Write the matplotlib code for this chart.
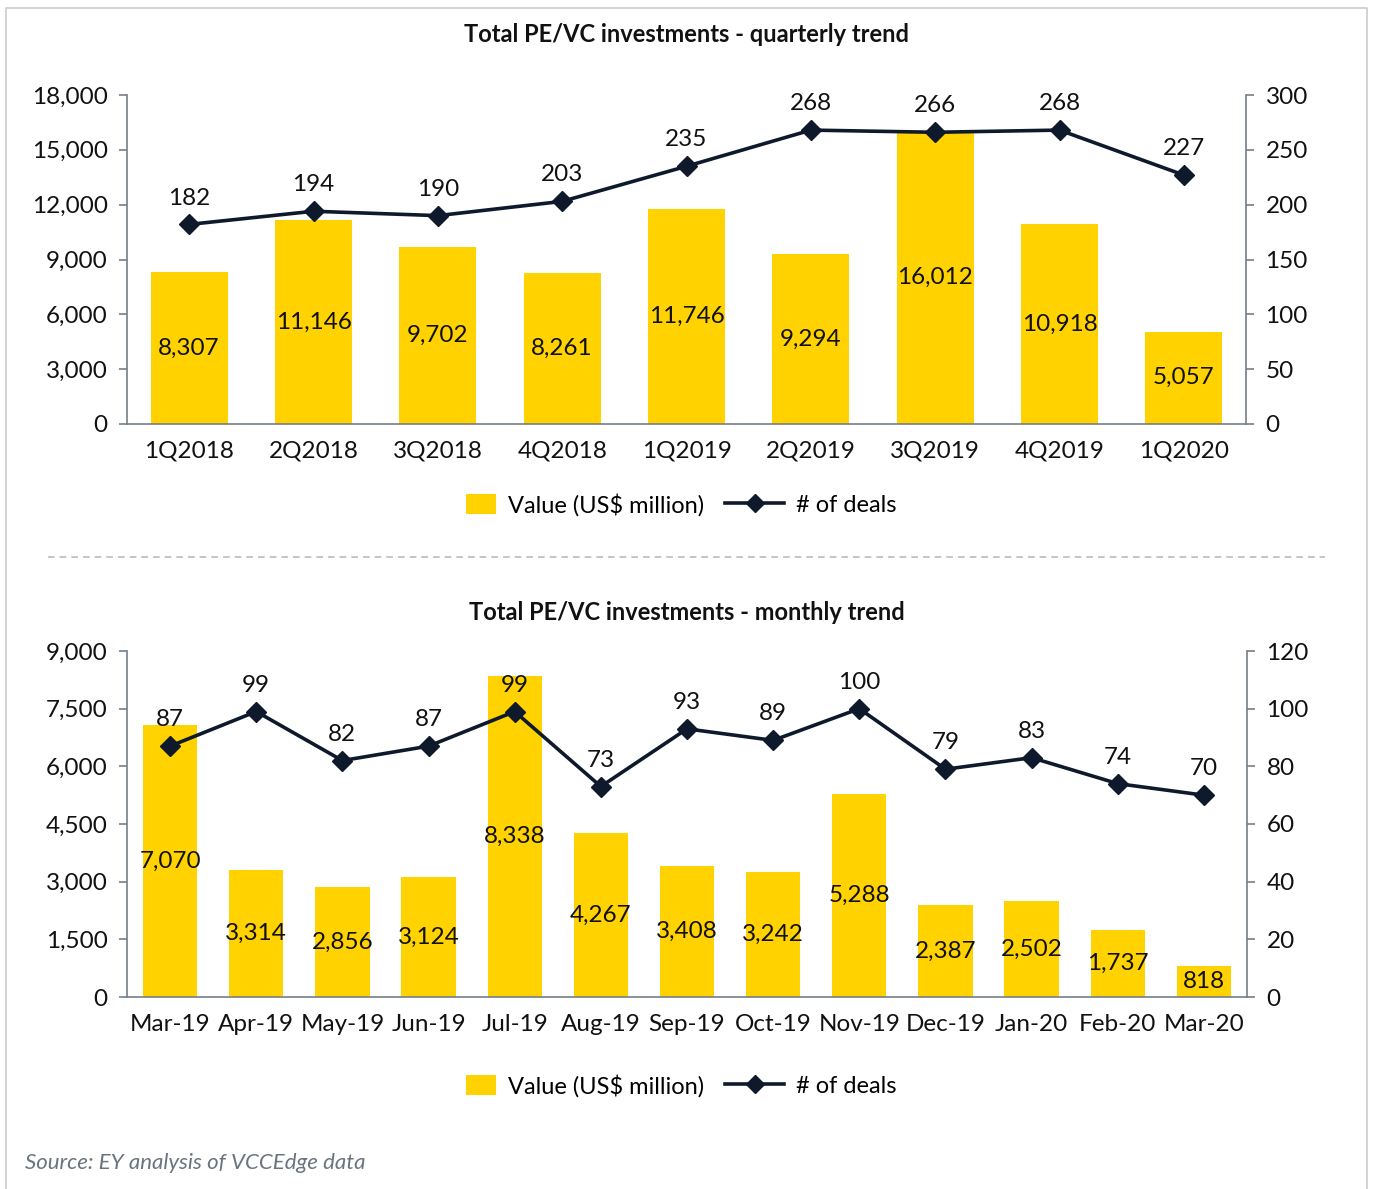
import matplotlib
matplotlib.use("Agg")
import matplotlib.pyplot as plt
from matplotlib.patches import Patch, Rectangle
from matplotlib.lines import Line2D
from matplotlib.legend_handler import HandlerPatch
from matplotlib.ticker import FuncFormatter

# ---- data ----
quarters = ["1Q2018", "2Q2018", "3Q2018", "4Q2018", "1Q2019", "2Q2019",
            "3Q2019", "4Q2019", "1Q2020"]
q_value = [8307, 11146, 9702, 8261, 11746, 9294, 16012, 10918, 5057]
q_deals = [182, 194, 190, 203, 235, 268, 266, 268, 227]

months = ["Mar-19", "Apr-19", "May-19", "Jun-19", "Jul-19", "Aug-19", "Sep-19",
          "Oct-19", "Nov-19", "Dec-19", "Jan-20", "Feb-20", "Mar-20"]
m_value = [7070, 3314, 2856, 3124, 8338, 4267, 3408, 3242, 5288, 2387, 2502, 1737, 818]
m_deals = [87, 99, 82, 87, 99, 73, 93, 89, 100, 79, 83, 74, 70]

q_left_ticks = [0, 3000, 6000, 9000, 12000, 15000, 18000]
q_right_ticks = [0, 50, 100, 150, 200, 250, 300]
m_left_ticks = [0, 1500, 3000, 4500, 6000, 7500, 9000]
m_right_ticks = [0, 20, 40, 60, 80, 100, 120]

YELLOW = "#FFD200"
NAVY = "#0E1A2B"
SPINE = "#747E8A"
FONT = "Lato"
FS = 17.5

plt.rcParams["font.family"] = [FONT, "DejaVu Sans"]

W, H = 1373, 1189
fig = plt.figure(figsize=(W / 100, H / 100), dpi=100)


def ax_rect(x0, y0, x1, y1):
    return [x0 / W, 1 - y1 / H, (x1 - x0) / W, (y1 - y0) / H]


def small_box(legend, orig_handle, xdescent, ydescent, width, height, fontsize):
    # compact swatch, right-aligned inside the handle area
    w, h = 21.6, 14.4
    return Rectangle((width - w - xdescent, -ydescent + (height - h) / 2), w, h)


def draw_panel(rect, cats, values, deals, lticks, rticks, bar_w, title, title_y, legend_y):
    ax = fig.add_axes(rect)
    n = len(cats)
    xs = list(range(n))
    ax.bar(xs, values, width=bar_w, color=YELLOW, zorder=1)
    ax.set_xlim(-0.5, n - 0.5)
    ax.set_ylim(lticks[0], lticks[-1])
    ax.set_yticks(lticks)
    ax.yaxis.set_major_formatter(FuncFormatter(lambda v, p: f"{int(v):,}"))
    ax.set_xticks(xs)
    ax.set_xticklabels(cats)
    ax.tick_params(axis="x", length=0, pad=12, labelsize=FS, colors="#111111")
    ax.tick_params(axis="y", length=6, width=1.2, color=SPINE, pad=8, labelsize=FS,
                   labelcolor="#111111", direction="out")
    for s in ("top", "right"):
        ax.spines[s].set_visible(False)
    for s in ("left", "bottom"):
        ax.spines[s].set_color(SPINE)
        ax.spines[s].set_linewidth(1.2)
    for x, v in zip(xs, values):
        ax.text(x, v / 2, f"{v:,}", ha="center", va="center", fontsize=FS,
                color="#111111", zorder=3)

    ax2 = ax.twinx()
    ax2.set_ylim(rticks[0], rticks[-1])
    ax2.set_yticks(rticks)
    ax2.plot(xs, deals, color=NAVY, lw=2.6, marker="D", markersize=10, zorder=4)
    ax2.tick_params(axis="y", length=6, width=1.2, color=SPINE, pad=8, labelsize=FS,
                    labelcolor="#111111", direction="out")
    for s in ("top", "left", "bottom"):
        ax2.spines[s].set_visible(False)
    ax2.spines["right"].set_color(SPINE)
    ax2.spines["right"].set_linewidth(1.2)
    for x, d in zip(xs, deals):
        ax2.annotate(f"{d}", (x, d), xytext=(0, 19), textcoords="offset points",
                     ha="center", va="center", fontsize=FS, color="#111111", zorder=5)

    fig.text(687 / W, 1 - title_y / H, title, ha="center", va="center",
             fontsize=17, fontweight="bold", color="#111111")

    handles = [Patch(facecolor=YELLOW, edgecolor="none"),
               Line2D([], [], color=NAVY, lw=2.6, marker="D", markersize=9)]
    fig.legend(handles, ["Value (US$ million)", "# of deals"], loc="center",
               bbox_to_anchor=(667 / W, 1 - legend_y / H), ncol=2, frameon=False,
               fontsize=17, handlelength=2.5, handleheight=0.9, columnspacing=0.9,
               handletextpad=0.5,
               handler_map={Patch: HandlerPatch(patch_func=small_box)})
    return ax, ax2


draw_panel(ax_rect(127, 95, 1246, 424), quarters, q_value, q_deals,
           q_left_ticks, q_right_ticks, 0.62,
           "Total PE/VC investments - quarterly trend", 35, 505)
draw_panel(ax_rect(127, 651, 1247, 997), months, m_value, m_deals,
           m_left_ticks, m_right_ticks, 0.63,
           "Total PE/VC investments - monthly trend", 613, 1086)

# outer frame and separator
fig.add_artist(Line2D([6 / W, 6 / W, 1367 / W, 1367 / W],
                      [0, 1 - 8 / H, 1 - 8 / H, 0], color="#C8CCD1", lw=1.2))
fig.add_artist(Line2D([48 / W, 1325 / W], [1 - 557 / H, 1 - 557 / H],
                      color="#BBBBBB", lw=1.2, linestyle=(0, (4, 3))))

fig.text(25 / W, 1 - 1163 / H, "Source: EY analysis of VCCEdge data", ha="left",
         va="center", fontsize=16, style="italic", color="#6A7480")

fig.savefig("out.png", dpi=100, facecolor="white")
